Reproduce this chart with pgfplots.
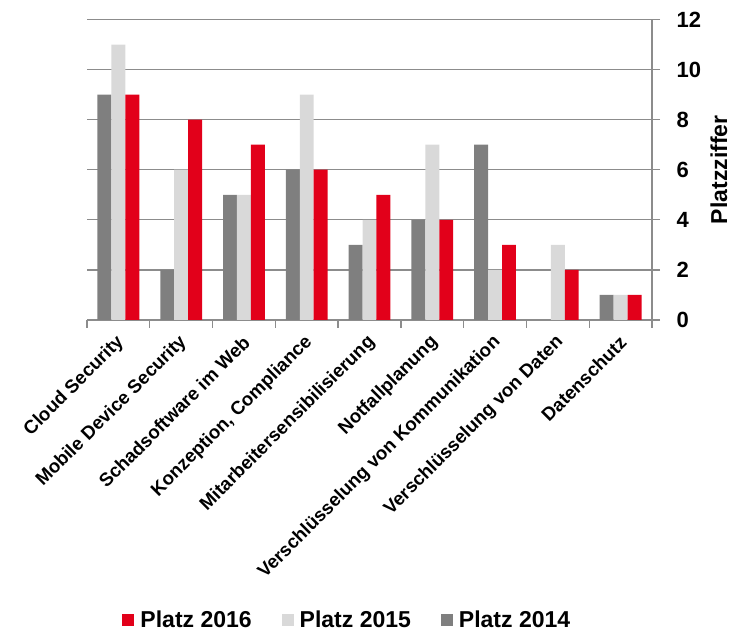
\documentclass[border=0pt]{standalone}
\usepackage{pgfplots}
\pgfplotsset{compat=1.18}
\usepackage{fontspec}
\setmainfont{Liberation Sans}
\definecolor{cRed}{HTML}{E2001A}
\definecolor{cLight}{HTML}{D9D9D9}
\definecolor{cDark}{HTML}{7F7F7F}
\definecolor{cGrid}{HTML}{8C8C8C}
\begin{document}
\begin{tikzpicture}
\path[use as bounding box] (0,0) rectangle (736pt,634pt);
\begin{axis}[
  at={(87pt,314pt)}, anchor=south west,
  scale only axis, width=565pt, height=300.5pt,
  ybar=0pt, bar width=0.222,
  xmin=-0.5, xmax=8.5, ymin=0, ymax=12,
  ytick={0,2,...,12},
  axis x line*=bottom, axis y line*=right,
  axis line style={cGrid, line width=1.3pt},
  ymajorgrids, grid style={cGrid, line width=1.3pt},
  tick align=outside, major tick length=8pt,
  tick style={cGrid, line width=1.3pt},
  xtick={-0.5,0.5,...,8.5}, xticklabels={},
  extra x ticks={0,1,2,3,4,5,6,7,8},
  extra x tick labels={Cloud Security, Mobile Device Security, Schadsoftware im Web, {Konzeption, Compliance}, Mitarbeitersensibilisierung, Notfallplanung, Verschlüsselung von Kommunikation, Verschlüsselung von Daten, Datenschutz},
  extra x tick style={major tick length=0pt, grid=none,
    tick label style={xshift=5pt, yshift=-17pt, rotate=45, anchor=east, font=\fontsize{18.7}{20}\selectfont\bfseries}},
  yticklabel style={anchor=west, xshift=13pt, font=\fontsize{22}{24}\selectfont\bfseries},
  /pgf/number format/assume math mode=true,
  ylabel={Platzziffer},
  ylabel style={at={(axis description cs:1.1186,0.5)}, anchor=center, font=\fontsize{23}{25}\selectfont\bfseries},
  legend style={at={(axis description cs:0.459,-0.998)}, anchor=center, draw=none,
    font=\fontsize{23}{26}\selectfont\bfseries, nodes={inner sep=0pt},
    /tikz/every even column/.append style={column sep=30pt},
    /tikz/every odd column/.append style={column sep=6pt}},
  legend columns=3, reverse legend,
  legend image code/.code={\fill[#1] (0pt,-6pt) rectangle (12pt,6pt);},
]
\addplot[fill=cDark, draw=none, bar shift=-0.222] coordinates {(0,9) (1,2) (2,5) (3,6) (4,3) (5,4) (6,7) (8,1)};
\addplot[fill=cLight, draw=none, bar shift=0] coordinates {(0,11) (1,6) (2,5) (3,9) (4,4) (5,7) (6,2) (7,3) (8,1)};
\addplot[fill=cRed, draw=none, bar shift=0.222] coordinates {(0,9) (1,8) (2,7) (3,6) (4,5) (5,4) (6,3) (7,2) (8,1)};
\legend{Platz 2014, Platz 2015, Platz 2016}
\end{axis}
\end{tikzpicture}
\end{document}
